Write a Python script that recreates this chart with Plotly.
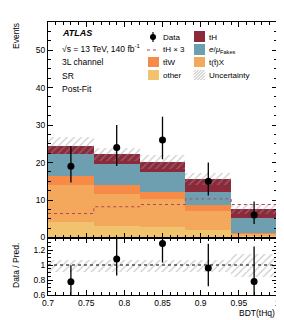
import plotly.graph_objects as go
from plotly.subplots import make_subplots

# ---- data ----
bin_edges = [0.70, 0.76, 0.82, 0.88, 0.94, 1.00]
bin_centers = [0.73, 0.79, 0.85, 0.91, 0.97]
other = [4.2, 3.0, 2.9, 2.0, 0.5]
ttX = [9.9, 8.7, 7.5, 5.1, 0.5]
ttW = [2.3, 2.3, 1.8, 1.5, 0.2]
fakes = [6.0, 5.7, 5.3, 3.6, 3.9]
tH = [2.1, 2.5, 2.7, 3.4, 2.6]
unc = [2.2, 1.8, 1.8, 1.5, 1.3]
tHx3 = [6.4, 8.2, 8.8, 10.3, 8.8]
data = [19, 24, 26, 15, 6]
data_up = [5.4, 6.0, 6.2, 5.0, 3.6]
data_dn = [4.3, 4.9, 5.1, 3.8, 2.4]
ratio_unc = [0.08, 0.08, 0.08, 0.08, 0.15]

x_ticks = [0.7, 0.75, 0.8, 0.85, 0.9, 0.95, 1.0]
x_ticklabels = ["0.7", "0.75", "0.8", "0.85", "0.9", "0.95", "1"]
y_ticks = [0, 10, 20, 30, 40, 50]
r_ticks = [0.6, 0.8, 1.0, 1.2]
r_ticklabels = ["0.6", "0.8", "1", "1.2"]

colors = {
    "other": "#f2c36e",
    "ttX": "#f4a85b",
    "ttW": "#f88a48",
    "fakes": "#6d9fb0",
    "tH": "#8c2a3c",
}

W, H = 284, 320
ML, MR, MT, MB = 40, 15, 14, 33
PW = W - ML - MR
PH = H - MT - MB
ratio_frac = 57.5 / PH

def px(x):
    return (x - ML) / PW

def py(y):
    return (H - MB - y) / PH

fig = make_subplots(rows=2, cols=1, shared_xaxes=True, vertical_spacing=0,
                    row_heights=[1 - ratio_frac, ratio_frac])

width = [bin_edges[i + 1] - bin_edges[i] for i in range(len(bin_centers))]

base = [0.0] * len(bin_centers)
for name, vals in [("other", other), ("ttX", ttX), ("ttW", ttW), ("fakes", fakes), ("tH", tH)]:
    fig.add_trace(go.Bar(x=bin_centers, y=vals, base=list(base), width=width,
                         marker=dict(color=colors[name], line=dict(width=0)),
                         showlegend=False), row=1, col=1)
    base = [b + v for b, v in zip(base, vals)]
total = base

# uncertainty band
fig.add_trace(go.Bar(x=bin_centers, y=[2 * u for u in unc],
                     base=[t - u for t, u in zip(total, unc)], width=width,
                     marker=dict(color="rgba(0,0,0,0)", line=dict(width=0),
                                 pattern=dict(shape="/", fgcolor="#9a9a9a", size=5,
                                              solidity=0.25, fillmode="overlay")),
                     showlegend=False), row=1, col=1)

# tH x 3 dashed step
fig.add_trace(go.Scatter(x=bin_edges, y=tHx3 + [tHx3[-1]], mode="lines",
                         line=dict(shape="hv", color="#b5455e", width=1, dash="dot"),
                         showlegend=False), row=1, col=1)

# data
fig.add_trace(go.Scatter(x=bin_centers, y=data, mode="markers",
                         marker=dict(color="black", size=7),
                         error_y=dict(type="data", symmetric=False, array=data_up,
                                      arrayminus=data_dn, color="black", thickness=1.3, width=0),
                         showlegend=False), row=1, col=1)

# ratio band
fig.add_trace(go.Bar(x=bin_centers, y=[2 * u for u in ratio_unc],
                     base=[1 - u for u in ratio_unc], width=width,
                     marker=dict(color="rgba(0,0,0,0)", line=dict(width=0),
                                 pattern=dict(shape="/", fgcolor="#9a9a9a", size=5,
                                              solidity=0.25, fillmode="overlay")),
                     showlegend=False), row=2, col=1)

fig.add_trace(go.Scatter(x=[bin_edges[0], bin_edges[-1]], y=[1, 1], mode="lines",
                         line=dict(color="black", width=1, dash="dot"),
                         showlegend=False), row=2, col=1)

ratio = [d / t for d, t in zip(data, total)]
r_up = [u / t for u, t in zip(data_up, total)]
r_dn = [dn / t for dn, t in zip(data_dn, total)]
fig.add_trace(go.Scatter(x=bin_centers, y=ratio, mode="markers",
                         marker=dict(color="black", size=7),
                         error_y=dict(type="data", symmetric=False, array=r_up,
                                      arrayminus=r_dn, color="black", thickness=1.3, width=0),
                         showlegend=False, cliponaxis=True), row=2, col=1)

axis_common = dict(showline=True, linecolor="black", linewidth=1, mirror="allticks",
                   ticks="inside", ticklen=5, tickcolor="black", showgrid=False,
                   zeroline=False, tickfont=dict(size=8.5, color="black"))

fig.update_xaxes(range=[0.7, 1.0], tickvals=x_ticks, ticktext=x_ticklabels,
                 minor=dict(dtick=0.01, ticks="inside", ticklen=3, tickcolor="black"),
                 **axis_common)
fig.update_xaxes(showticklabels=False, row=1, col=1)
fig.update_yaxes(range=[0, 57.5], tickvals=y_ticks,
                 minor=dict(dtick=2.5, ticks="inside", ticklen=3, tickcolor="black"),
                 row=1, col=1, **axis_common)
fig.update_yaxes(range=[0.6, 1.367], tickvals=r_ticks, ticktext=r_ticklabels,
                 minor=dict(dtick=0.05, ticks="inside", ticklen=3, tickcolor="black"),
                 row=2, col=1, **axis_common)

font = "Liberation Sans, Arial, sans-serif"
ann = []
def text(x, y, s, size=8.5, **kw):
    d = dict(x=px(x), y=py(y), xref="paper", yref="paper", text=s, showarrow=False,
             xanchor="left", yanchor="middle", font=dict(size=size, color="black", family=font))
    d.update(kw)
    ann.append(d)

text(52, 25, "<b><i>ATLAS</i></b>", size=9)
text(52, 40, "√s = 13 TeV, 140 fb<sup>-1</sup>")
text(52, 54, "3L channel")
text(52, 68, "SR")
text(52, 81, "Post-Fit")

# legend texts
text(153, 29, "Data", size=8)
text(153, 42, "tH × 3", size=8)
text(153, 54, "tt̄W", size=8)
text(153, 67, "other", size=8)
text(199, 29, "tH", size=8)
text(199, 42, "<i>e</i>/<i>μ</i><sub>Fakes</sub>", size=8)
text(199, 54, "t(t̄)X", size=8)
text(199, 67, "Uncertainty", size=8)

# axis titles
text(8, 28, "Events", size=8.5, textangle=-90, xanchor="center", yanchor="middle")
text(8, 258, "Data / Pred.", size=8.5, textangle=-90, xanchor="center", yanchor="middle")
text(269, 305, "BDT(tHq)", size=8.5, xanchor="right")

shapes = []
def box(x0, y0, x1, y1, color):
    shapes.append(dict(type="rect", xref="paper", yref="paper", x0=px(x0), x1=px(x1),
                       y0=py(y1), y1=py(y0), fillcolor=color, line=dict(width=0)))

box(140, 49, 151, 59, colors["ttW"])
box(140, 62, 151, 72, colors["other"])
box(186, 23, 197, 34, colors["tH"])
box(186, 36, 197, 47, colors["fakes"])
box(186, 49, 197, 59, colors["ttX"])

# hatch icon
hx0, hy0, hx1, hy1 = 186, 62, 197, 72
c = hx0 + hy0 + 1.5
while c < hx1 + hy1:
    xa = max(hx0, c - hy1)
    xb = min(hx1, c - hy0)
    if xb > xa:
        shapes.append(dict(type="line", xref="paper", yref="paper",
                           x0=px(xa), y0=py(c - xa), x1=px(xb), y1=py(c - xb),
                           line=dict(color="#9a9a9a", width=0.8)))
    c += 3

# tH x3 legend line
shapes.append(dict(type="line", xref="paper", yref="paper", x0=px(139), x1=px(151),
                   y0=py(42), y1=py(42), line=dict(color="#b5455e", width=1, dash="dot")))
# data legend marker
shapes.append(dict(type="circle", xref="paper", yref="paper", x0=px(142), x1=px(148),
                   y0=py(32), y1=py(26), fillcolor="black", line=dict(width=0)))
shapes.append(dict(type="line", xref="paper", yref="paper", x0=px(145), x1=px(145),
                   y0=py(34), y1=py(24), line=dict(color="black", width=1.2)))

fig.update_layout(width=W, height=H, margin=dict(l=ML, r=MR, t=MT, b=MB),
                  plot_bgcolor="white", paper_bgcolor="white", barmode="overlay",
                  bargap=0, annotations=ann, shapes=shapes,
                  font=dict(family=font, color="black"))

fig.write_html("out.html")
